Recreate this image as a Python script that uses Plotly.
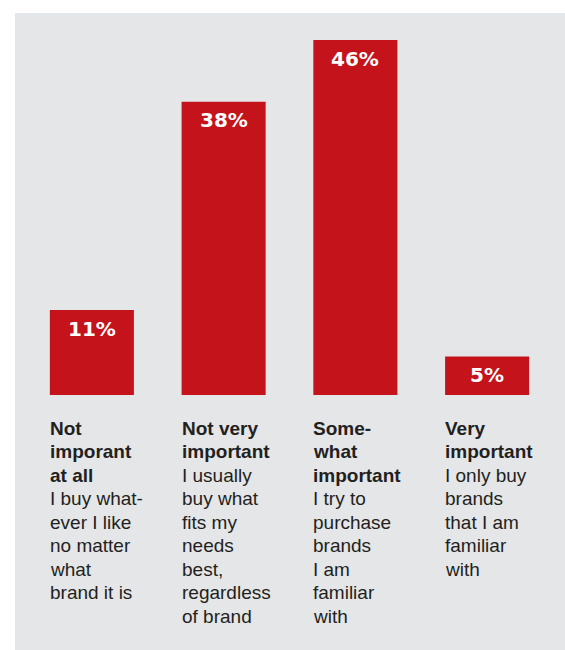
import plotly.graph_objects as go

categories = ["Not imporant at all", "Not very important", "Somewhat important", "Very important"]
values = [11, 38, 46, 5]
value_labels = ["11%", "38%", "46%", "5%"]
headings = [
    ["Not", "imporant", "at all"],
    ["Not very", "important"],
    ["Some-", "what", "important"],
    ["Very", "important"],
]
descriptions = [
    ["I buy what-", "ever I like", "no matter", "what", "brand it is"],
    ["I usually", "buy what", "fits my", "needs", "best,", "regardless", "of brand"],
    ["I try to", "purchase", "brands", "I am", "familiar", "with"],
    ["I only buy", "brands", "that I am", "familiar", "with"],
]

W_PX, H_PX = 565, 650
L, R, T, B = 26, 12, 40, 255
PW, PH = W_PX - L - R, H_PX - T - B
BAR_RED = "#c4131b"
PANEL = "#e5e6e8"
TEXT = "#231f20"
bargap = 0.362

fig = go.Figure()
fig.add_trace(go.Bar(
    x=list(range(len(categories))), y=values,
    marker=dict(color=BAR_RED, line=dict(width=0)),
    hovertext=categories, hoverinfo="text",
))

def px_to_paper_x(px):
    return (px - L) / PW

def px_to_paper_y(py):
    return (H_PX - B - py) / PH

fig.add_shape(type="rect", xref="paper", yref="paper",
              x0=px_to_paper_x(15), x1=px_to_paper_x(W_PX + 5),
              y0=px_to_paper_y(H_PX + 5), y1=px_to_paper_y(13),
              fillcolor=PANEL, line=dict(width=0), layer="below")

annotations = []
for i, (v, lab) in enumerate(zip(values, value_labels)):
    annotations.append(dict(
        x=i, y=v, xref="x", yref="y", text=f"<b>{lab}</b>", showarrow=False,
        xanchor="center", yanchor="middle", yshift=-18.5,
        font=dict(family="DejaVu Sans", size=20, color="white")))

line_h = 23.45
for i in range(len(categories)):
    lines = [(t, True) for t in headings[i]] + [(t, False) for t in descriptions[i]]
    for j, (t, bold) in enumerate(lines):
        annotations.append(dict(
            x=i - (1 - bargap) / 2, y=0, xref="x", yref="paper",
            text=f"<b>{t}</b>" if bold else t, showarrow=False,
            xanchor="left", yanchor="middle", xshift=-2,
            yshift=-(33.4 + line_h * j),
            font=dict(family="Liberation Sans, Arial, sans-serif", size=19, color=TEXT)))

fig.update_layout(
    width=W_PX, height=H_PX,
    margin=dict(l=L, r=R, t=T, b=B, pad=0),
    paper_bgcolor="white", plot_bgcolor="rgba(0,0,0,0)",
    bargap=bargap, showlegend=False,
    xaxis=dict(range=[-0.5, len(categories) - 0.5], visible=False, fixedrange=True),
    yaxis=dict(range=[0, max(values)], visible=False, fixedrange=True),
    annotations=annotations,
)

fig.write_html("out.html")
